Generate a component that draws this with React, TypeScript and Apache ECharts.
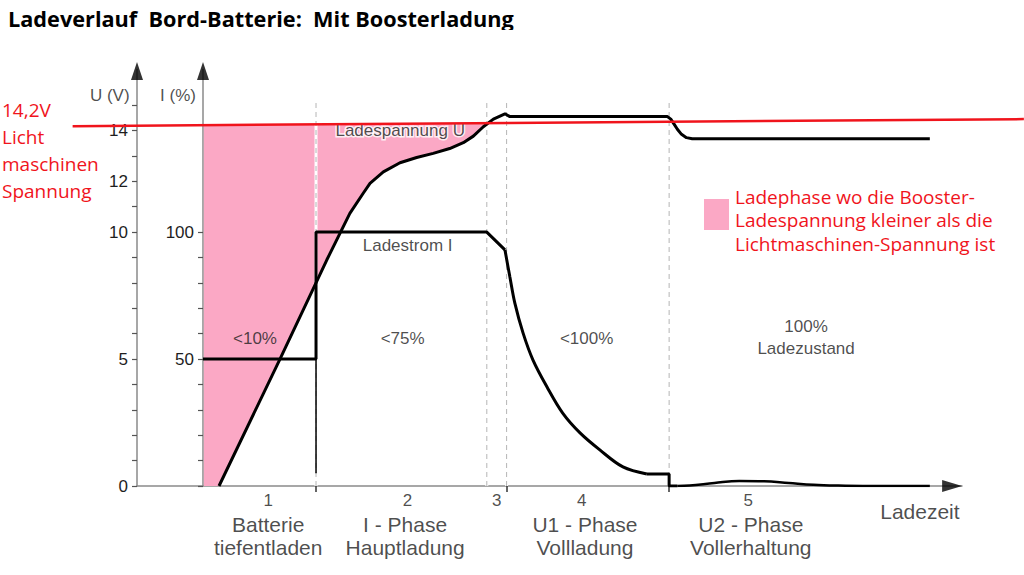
import React, { useEffect, useRef } from "react";
import * as echarts from "echarts";

// ---------- data (time units 0..100, voltage in V, current in %) ----------
const TITLE = "Ladeverlauf  Bord-Batterie:  Mit Boosterladung";
const uTicks = [0, 1, 2, 3, 4, 5, 6, 7, 8, 9, 10, 11, 12, 13, 14, 15];
const uLabels = [0, 5, 10, 12, 14];
const iTicks = [0, 10, 20, 30, 40, 50, 60, 70, 80, 90, 100];
const iLabels = [50, 100];
const phaseBounds = [21.7, 42.4, 44.8, 64.5];
const phaseTicks = [21.7, 44.8, 64.5];
const boundTop = 15.2;

const voltage = [
  [9.94, 0], [17.33, 5], [23.0, 8.9], [25.8, 10.74], [27.4, 11.52], [28.24, 11.92],
  [29.86, 12.37], [31.88, 12.73], [33.9, 12.94], [35.9, 13.1], [37.9, 13.29], [39.55, 13.52],
  [40.77, 13.78], [41.98, 14.15], [43.2, 14.45], [44.6, 14.66], [45.2, 14.55], [64.3, 14.55],
  [64.7, 14.45], [65.1, 14.25], [65.5, 14.05], [66.0, 13.85], [66.6, 13.72], [67.3, 13.68],
  [96.1, 13.68],
];
const currentStep = [[8, 50], [21.7, 50], [21.7, 100], [42.4, 100], [44.6, 93]];
const currentDecay = [
  [44.6, 93], [45.2, 82.3], [45.8, 72], [46.8, 60.2], [48.0, 49.6], [49.7, 39], [51.6, 28.7],
  [53.7, 20.9], [56.1, 14.2], [58.9, 7.5], [61.8, 4.7],
];
const currentFloat = [[61.8, 4.7], [64.5, 4.7], [64.5, 0], [65.5, 0]];
const currentHump = [
  [65.5, 0], [67, 0.2], [70, 1.2], [73, 2.0], [76, 1.9], [79, 1.2], [82, 0.5], [85, 0.15],
  [88, 0], [96.1, 0],
];
const phase1Marker = [[21.7, 5], [21.7, 50]];
const alternatorLine = [[-7.8, 14.17], [107.5, 14.45]];
const pinkTop = [[8.1, 0], [8.1, 14.21], [42.55, 14.29]];
const crossT = 42.55;

const plotLabels = [
  { text: "Ladespannung U", t: 31.9, u: 14.0, halo: true },
  { text: "Ladestrom I", t: 32.8, u: 9.49 },
  { text: "<10%", t: 14.3, u: 5.79 },
  { text: "<75%", t: 32.2, u: 5.79 },
  { text: "<100%", t: 54.5, u: 5.79 },
  { text: "100%\nLadezustand", t: 81.1, u: 5.83 },
  { text: "U (V)", t: -3.3, u: 15.39 },
  { text: "I (%)", t: 4.97, u: 15.39 },
];
const phaseNumbers = [
  { text: "1", t: 15.9 }, { text: "2", t: 32.8 }, { text: "3", t: 43.6 },
  { text: "4", t: 53.9 }, { text: "5", t: 74.1 },
];
const phaseNames = [
  { text: "Batterie\ntiefentladen", t: 15.9 },
  { text: "I - Phase\nHauptladung", t: 32.5 },
  { text: "U1 - Phase\nVollladung", t: 54.3 },
  { text: "U2 - Phase\nVollerhaltung", t: 74.4 },
];
const axisTitleX = { text: "Ladezeit", t: 94.9, u: -1.02 };
const leftNote = "14,2V\nLicht\nmaschinen\nSpannung";
const legendNote = "Ladephase wo die Booster-\nLadespannung kleiner als die\nLichtmaschinen-Spannung ist";

const PINK = "#fba8c5";
const RED = "#f0141c";
const FONT = "'Liberation Sans', Arial, sans-serif";
const NOTE_FONT = "'Open Sans', sans-serif";
const TXT = "#1e1e1e";

export default function App() {
  const ref = useRef<HTMLDivElement>(null);
  useEffect(() => {
    if (!ref.current) return;
    const chart = echarts.init(ref.current, undefined, { renderer: "svg" });

    const pinkOutline = [
      ...pinkTop,
      ...voltage.filter((p) => p[0] < crossT).slice().reverse(),
    ];

    const lineSeries = (data: number[][], yAxisIndex: number, extra: any = {}) => ({
      type: "line",
      data,
      yAxisIndex,
      showSymbol: false,
      symbol: "none",
      silent: true,
      lineStyle: { color: "#000", width: 3 },
      z: 4,
      ...extra,
    });

    const series: any[] = [];
    // pink area
    series.push({
      type: "custom",
      coordinateSystem: "cartesian2d",
      data: [[0, 0]],
      z: 1,
      silent: true,
      renderItem: (_p: any, api: any) => ({
        type: "polygon",
        shape: { points: pinkOutline.map((p) => api.coord(p)) },
        style: { fill: PINK },
      }),
    });
    // phase boundaries
    phaseBounds.forEach((b) => {
      series.push(lineSeries([[b, 0], [b, boundTop]], 0, { lineStyle: { color: "#fff", width: 3 }, z: 2 }));
      series.push(lineSeries([[b, 0], [b, boundTop]], 0, { lineStyle: { color: "#b5b5b5", width: 1, type: [5, 4] }, z: 3 }));
    });
    // curves
    series.push(lineSeries(voltage, 0));
    series.push(lineSeries(currentStep, 1));
    series.push(lineSeries(currentDecay, 1, { smooth: 0.35 }));
    series.push(lineSeries(currentFloat, 1));
    series.push(lineSeries(currentHump, 1, { smooth: 0.4, lineStyle: { color: "#000", width: 2.5 } }));
    series.push(lineSeries(phase1Marker, 1, { lineStyle: { color: "#000", width: 1.5 } }));
    // alternator voltage line (extends beyond the plot)
    series.push({
      type: "custom",
      coordinateSystem: "cartesian2d",
      data: [[0, 0]],
      z: 8,
      clip: false,
      silent: true,
      renderItem: (_p: any, api: any) => ({
        type: "polyline",
        shape: { points: alternatorLine.map((p) => api.coord(p)) },
        style: { stroke: RED, lineWidth: 2.5, fill: "none" },
      }),
    });
    // arrows
    series.push({
      type: "scatter",
      silent: true,
      clip: false,
      z: 9,
      symbol: "triangle",
      itemStyle: { color: "#000" },
      data: [
        { value: [0, 16.34], symbolSize: [12, 18] },
        { value: [8, 16.34], symbolSize: [12, 18] },
        { value: [98.8, 0], symbolSize: [12, 20], symbolRotate: -90 },
      ],
    });
    // text labels
    const labelItem = (text: string, t: number, u: number, style: any = {}) => ({
      value: [t, u],
      label: { formatter: text, ...style },
    });
    series.push({
      type: "scatter",
      silent: true,
      clip: false,
      z: 7,
      symbolSize: 1,
      itemStyle: { color: "rgba(0,0,0,0)" },
      label: {
        show: true,
        position: "inside",
        fontFamily: FONT,
        fontSize: 17,
        color: TXT,
        align: "center",
        verticalAlign: "middle",
        lineHeight: 22,
      },
      data: [
        ...plotLabels.map((l) =>
          labelItem(l.text, l.t, l.u, l.halo ? { textBorderColor: "#fff", textBorderWidth: 3 } : {})
        ),
        ...phaseNumbers.map((l) => labelItem(l.text, l.t, -0.58, { fontSize: 17 })),
        ...phaseNames.map((l) => labelItem(l.text, l.t, -1.97, { fontSize: 21, lineHeight: 23 })),
        labelItem(axisTitleX.text, axisTitleX.t, axisTitleX.u, { fontSize: 21 }),
      ],
    });

    const axisLineStyle = { color: "#8a8a8a", width: 1.5 };
    chart.setOption({
      animation: false,
      backgroundColor: "#fff",
      grid: { left: 137, right: 62, top: 69.6, bottom: 89 },
      xAxis: {
        type: "value",
        min: 0,
        max: 100,
        axisLine: { show: true, lineStyle: axisLineStyle },
        axisTick: { show: true, customValues: phaseTicks, length: 6, lineStyle: { color: "#333", width: 1.5 } },
        axisLabel: { show: false },
        splitLine: { show: false },
      },
      yAxis: [
        {
          type: "value",
          min: 0,
          max: 16.4,
          position: "left",
          axisLine: { show: true, lineStyle: axisLineStyle },
          axisTick: { show: true, customValues: uTicks, length: 5, lineStyle: { color: "#555", width: 1.2 } },
          axisLabel: { show: true, customValues: uLabels, margin: 9, fontSize: 17, fontFamily: FONT, color: TXT },
          splitLine: { show: false },
        },
        {
          type: "value",
          min: 0,
          max: 164,
          position: "left",
          offset: -66,
          axisLine: { show: true, lineStyle: axisLineStyle },
          axisTick: { show: true, customValues: iTicks, length: 5, lineStyle: { color: "#555", width: 1.2 } },
          axisLabel: { show: true, customValues: iLabels, margin: 9, fontSize: 17, fontFamily: FONT, color: TXT },
          splitLine: { show: false },
        },
      ],
      graphic: [
        {
          type: "text",
          x: 8,
          y: 7,
          z: 10,
          style: { text: TITLE, fontFamily: NOTE_FONT, fontWeight: "bold", fontSize: 21.7, fill: "#000", verticalAlign: "top" },
        },
        { type: "rect", x: 0, y: 30, z: 11, shape: { width: 530, height: 8 }, style: { fill: "#fff" } },
        {
          type: "text",
          x: 2,
          y: 96.5,
          z: 10,
          style: { text: leftNote, fontFamily: NOTE_FONT, fontSize: 19, lineHeight: 27, fill: RED, verticalAlign: "top" },
        },
        { type: "rect", x: 704, y: 199, z: 10, shape: { width: 25, height: 31 }, style: { fill: PINK } },
        {
          type: "text",
          x: 735,
          y: 185,
          z: 10,
          style: { text: legendNote, fontFamily: NOTE_FONT, fontSize: 19, lineHeight: 23.5, fill: RED, verticalAlign: "top" },
        },
      ],
      series,
    });
    return () => chart.dispose();
  }, []);
  return <div ref={ref} style={{ position: "fixed", left: 0, top: 0, width: 1024, height: 575 }} />;
}
